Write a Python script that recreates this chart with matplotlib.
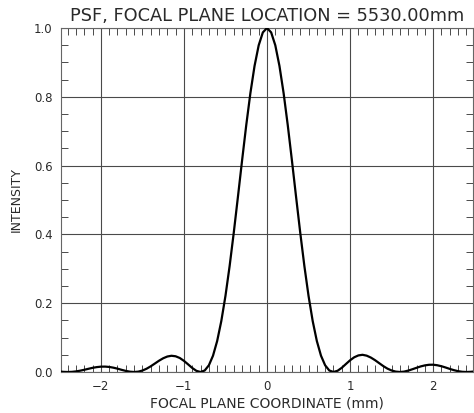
"""Point spread function at the focal plane, redrawn from a scanned plot."""

import matplotlib

matplotlib.use("Agg")
import matplotlib.pyplot as plt
from matplotlib.ticker import MultipleLocator

# focal plane coordinate (mm), every 0.05 mm
COORD_MM = [
    -2.50, -2.45, -2.40, -2.35, -2.30, -2.25, -2.20, -2.15, -2.10, -2.05,
    -2.00, -1.95, -1.90, -1.85, -1.80, -1.75, -1.70, -1.65, -1.60, -1.55,
    -1.50, -1.45, -1.40, -1.35, -1.30, -1.25, -1.20, -1.15, -1.10, -1.05,
    -1.00, -0.95, -0.90, -0.85, -0.80, -0.75, -0.70, -0.65, -0.60, -0.55,
    -0.50, -0.45, -0.40, -0.35, -0.30, -0.25, -0.20, -0.15, -0.10, -0.05,
    0.00,
    0.05, 0.10, 0.15, 0.20, 0.25, 0.30, 0.35, 0.40, 0.45, 0.50,
    0.55, 0.60, 0.65, 0.70, 0.75, 0.80, 0.85, 0.90, 0.95, 1.00,
    1.05, 1.10, 1.15, 1.20, 1.25, 1.30, 1.35, 1.40, 1.45, 1.50,
    1.55, 1.60, 1.65, 1.70, 1.75, 1.80, 1.85, 1.90, 1.95, 2.00,
    2.05, 2.10, 2.15, 2.20, 2.25, 2.30, 2.35, 2.40, 2.45, 2.50,
]
INTENSITY = [
    0.0015, 0.0004, 0.0000, 0.0004, 0.0017, 0.0038, 0.0064, 0.0093, 0.0121, 0.0142,
    0.0155, 0.0157, 0.0147, 0.0126, 0.0097, 0.0063, 0.0032, 0.0009, 0.0000, 0.0010,
    0.0042, 0.0095, 0.0165, 0.0246, 0.0328, 0.0399, 0.0450, 0.0472, 0.0457, 0.0407,
    0.0324, 0.0222, 0.0117, 0.0034, 0.0000, 0.0044, 0.0194, 0.0474, 0.0901, 0.1482,
    0.2214, 0.3080, 0.4053, 0.5092, 0.6150, 0.7173, 0.8106, 0.8896, 0.9497, 0.9872,
    1.0000,
    0.9872, 0.9497, 0.8896, 0.8106, 0.7173, 0.6150, 0.5092, 0.4053, 0.3080, 0.2214,
    0.1482, 0.0901, 0.0474, 0.0194, 0.0044, 0.0000, 0.0036, 0.0122, 0.0232, 0.0340,
    0.0428, 0.0482, 0.0500, 0.0475, 0.0420, 0.0345, 0.0258, 0.0172, 0.0098, 0.0044,
    0.0011, 0.0000, 0.0011, 0.0040, 0.0080, 0.0122, 0.0162, 0.0192, 0.0210, 0.0212,
    0.0196, 0.0168, 0.0131, 0.0090, 0.0054, 0.0024, 0.0006, 0.0000, 0.0005, 0.0016,
]

X_TICKS = [-2, -1, 0, 1, 2]
X_TICK_LABELS = ["\u22122", "\u22121", "0", "1", "2"]
Y_TICKS = [0.0, 0.2, 0.4, 0.6, 0.8, 1.0]
Y_TICK_LABELS = ["0.0", "0.2", "0.4", "0.6", "0.8", "1.0"]

TITLE = "PSF, FOCAL PLANE LOCATION = 5530.00mm"
X_LABEL = "FOCAL PLANE COORDINATE (mm)"
Y_LABEL = "INTENSITY"

TEXT_COLOR = "#2a2a2a"
GRID_COLOR = "#4a4a4a"


def main() -> None:
    plt.rcParams["font.family"] = ["DejaVu Sans"]

    figure = plt.figure(figsize=(4.74, 4.13), dpi=100)
    axis = figure.add_axes([61 / 474, 1 - 372 / 413, 412 / 474, 344 / 413])

    axis.plot(COORD_MM, INTENSITY, color="black", linewidth=1.6, zorder=3)

    axis.set_xlim(-2.48, 2.48)
    axis.set_ylim(0.0, 1.0)

    axis.set_xticks(X_TICKS, X_TICK_LABELS)
    axis.set_yticks(Y_TICKS, Y_TICK_LABELS)
    axis.xaxis.set_minor_locator(MultipleLocator(0.1))
    axis.yaxis.set_minor_locator(MultipleLocator(0.05))
    axis.tick_params(which="both", direction="in", top=True, right=True,
                     colors=GRID_COLOR, labelcolor=TEXT_COLOR, labelsize=8.5)
    axis.tick_params(which="major", length=0, pad=6)
    axis.tick_params(which="minor", length=5, width=0.7)

    axis.grid(which="major", color=GRID_COLOR, linewidth=0.8)
    for spine in axis.spines.values():
        spine.set_color("#666666")
        spine.set_linewidth(0.8)

    axis.set_title(TITLE, fontsize=12.8, color=TEXT_COLOR, pad=5)
    axis.set_xlabel(X_LABEL, fontsize=10, color=TEXT_COLOR, labelpad=2)
    axis.set_ylabel(Y_LABEL, fontsize=9, color=TEXT_COLOR, labelpad=8)

    figure.savefig("out.png", dpi=100)
    plt.close(figure)


if __name__ == "__main__":
    main()
